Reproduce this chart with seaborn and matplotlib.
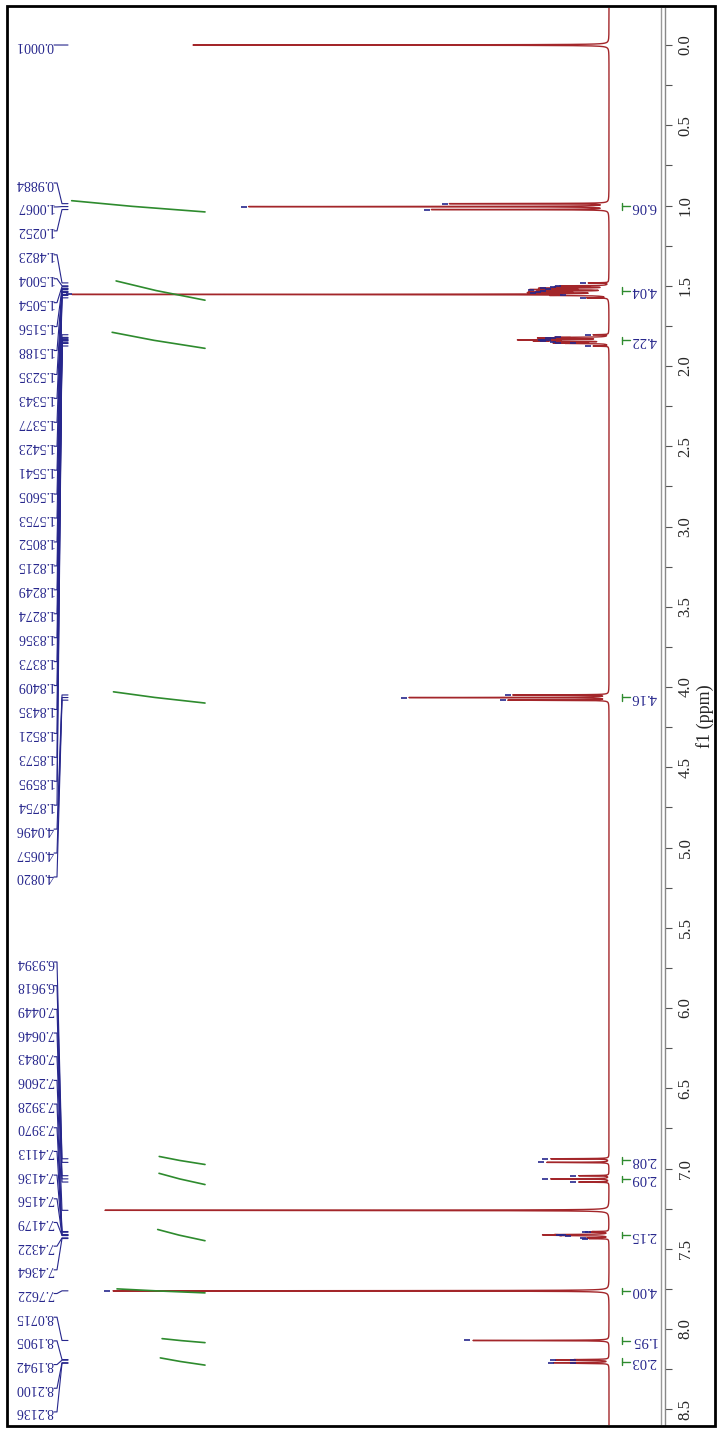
import numpy as np
import pandas as pd
import matplotlib
matplotlib.use("Agg")
import matplotlib.pyplot as plt
from matplotlib.patches import Rectangle
import seaborn as sns

# Peak list (ppm) and peak heights (arbitrary units)
peak_ppm = [0.0001,
            0.9884, 1.0067, 1.0252,
            1.4823, 1.5004, 1.5054, 1.5156, 1.5188, 1.5235, 1.5343, 1.5377,
            1.5423, 1.5541, 1.5605, 1.5753,
            1.8052, 1.8215, 1.8249, 1.8274, 1.8356, 1.8373, 1.8409, 1.8435,
            1.8521, 1.8573, 1.8595, 1.8754,
            4.0496, 4.0657, 4.0820,
            6.9394, 6.9618, 7.0449, 7.0646, 7.0843, 7.2606,
            7.3928, 7.3970, 7.4113, 7.4136, 7.4156, 7.4179, 7.4322, 7.4364,
            7.7622, 8.0715, 8.1905, 8.1942, 8.2100, 8.2136]
peak_height = [416,
               158, 359, 176,
               20, 45, 50, 60, 55, 72, 60, 65,
               70, 534, 40, 20,
               15, 45, 55, 50, 62, 60, 55, 60,
               50, 45, 30, 15,
               95, 199, 100,
               58, 62, 30, 58, 30, 504,
               15, 18, 40, 44, 42, 35, 20, 18,
               496, 136, 30, 50, 52, 30]

# Integration regions
int_start = [0.97, 1.47, 1.79, 4.03, 6.925, 7.03, 7.38, 7.75, 8.06, 8.18]
int_end = [1.04, 1.59, 1.89, 4.10, 6.975, 7.10, 7.45, 7.775, 8.085, 8.225]
int_value = [6.06, 4.04, 4.22, 4.16, 2.08, 2.09, 2.15, 4.00, 1.95, 2.03]

ppm_ticks = [0.0, 0.5, 1.0, 1.5, 2.0, 2.5, 3.0, 3.5, 4.0, 4.5, 5.0, 5.5,
             6.0, 6.5, 7.0, 7.5, 8.0, 8.5]

RED = "#a3262a"
NAVY = "#26268c"
GREEN = "#2e8b2e"

sns.set_theme(style="white")
plt.rcParams['font.family'] = ['Liberation Serif', 'DejaVu Serif']

# build the spectrum as a sum of narrow lorentzians
grid = np.union1d(np.arange(-0.23, 8.60, 0.0002), peak_ppm)
hw = 0.0012
spec = np.zeros_like(grid)
for p, h in zip(peak_ppm, peak_height):
    spec += h * hw**2 / ((grid - p)**2 + hw**2)
df = pd.DataFrame({"ppm": grid, "intensity": spec})

W, H = 718, 1429
fig = plt.figure(figsize=(W / 100, H / 100), dpi=100)

# px -> data helpers (ppm axis runs down, intensity runs left)
y0_px, px_per_ppm = 45, 160.5
base_px = 609
def px2ppm(y):
    return (y - y0_px) / px_per_ppm
def px2int(x):
    return base_px - x

left, right, top, bottom = 8, 665, 8, 1425
ax = fig.add_axes([left / W, (H - bottom) / H, (right - left) / W, (bottom - top) / H])

sns.lineplot(data=df, x="intensity", y="ppm", orient="y", sort=False,
             estimator=None, color=RED, lw=1.0, ax=ax)

# peak pick marks (not on TMS / CHCl3 lines)
mark_ppm = [p for p in peak_ppm if p not in (0.0001, 7.2606)]
mark_h = [h + 6 for p, h in zip(peak_ppm, peak_height) if p not in (0.0001, 7.2606)]
ax.plot(mark_h, mark_ppm, ls="none", marker="_", ms=5, mew=1.2, color=NAVY)

# integral curves
int_zero = px2int(205)
int_scale = 22
for s, e, v in zip(int_start, int_end, int_value):
    ax.plot([int_zero + v * int_scale, int_zero + v * int_scale * 0.55, int_zero],
            [s, (s + e) / 2, e], color=GREEN, lw=1.2)
    yc = (s + e) / 2
    # integral bracket + value
    ax.plot([px2int(622), px2int(622)], [yc - 0.02, yc + 0.02], color=GREEN, lw=1)
    ax.plot([px2int(622), px2int(630)], [yc, yc], color=GREEN, lw=1)
    ax.text(px2int(631), yc, f"{v:.2f}", rotation=180, rotation_mode="anchor",
            ha="right", va="center", fontsize=10.5, color=NAVY)

# peak labels with leader lines
label_pos = [px2ppm(45)]
label_pos += [px2ppm(183 + i * 23.93) for i in range(30)]
label_pos += [px2ppm(962 + i * 23.68) for i in range(20)]
for p, yl in zip(peak_ppm, label_pos):
    ax.text(px2int(54), yl, f"{p:.4f}", rotation=180, rotation_mode="anchor",
            ha="left", va="center", fontsize=10, color=NAVY)
    ax.plot([px2int(54), px2int(57), px2int(62), px2int(68)], [yl, yl, p, p],
            color=NAVY, lw=0.8)

# axis on the right
for s in ["left", "top", "bottom"]:
    ax.spines[s].set_visible(False)
ax.spines["right"].set_color("#888888")
ax.spines["right"].set_linewidth(1.0)
ax.axvline(px2int(661), color="#999999", lw=1.0)
ax.set_xticks([])
ax.yaxis.tick_right()
ax.set_yticks(ppm_ticks)
ax.set_yticks([t + 0.25 for t in ppm_ticks], minor=True)
ax.set_yticklabels([f"{t:.1f}" for t in ppm_ticks], rotation=90, va="center")
ax.tick_params(axis="y", which="both", direction="out", length=5, width=0.8,
               color="#555555", labelsize=12, pad=4, right=True, left=False)
ax.yaxis.set_label_position("right")
ax.set_ylabel("f1 (ppm)", rotation=90, fontsize=13, labelpad=2)
ax.set_xlabel("")

# limits last, seaborn autoscales
ax.set_xlim(px2int(left), px2int(right))
ax.set_ylim(px2ppm(bottom), px2ppm(top))

fig.add_artist(Rectangle((7 / W, (H - 1426) / H), 708 / W, 1420 / H, fill=False,
                         lw=2, edgecolor="black", transform=fig.transFigure))

fig.savefig("out.png", dpi=100, facecolor="white")
